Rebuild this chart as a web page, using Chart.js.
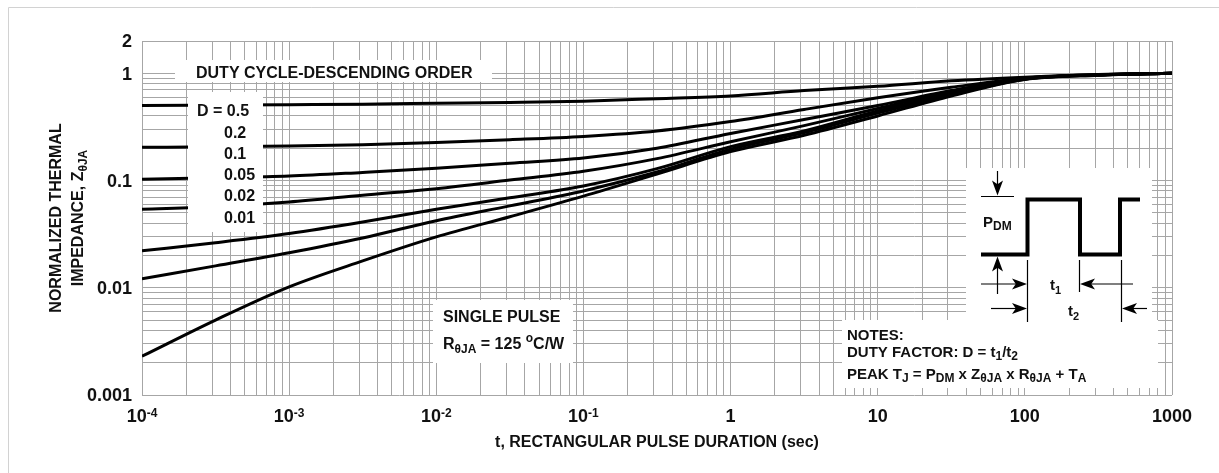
<!DOCTYPE html>
<html>
<head>
<meta charset="utf-8">
<title>Transient Thermal Response</title>
<script src="https://cdn.jsdelivr.net/npm/chart.js@4.4.1/dist/chart.umd.min.js"></script>
<style>
  html, body { margin: 0; padding: 0; background: #fff; }
  #wrap { position: relative; width: 1219px; height: 473px; }
</style>
</head>
<body>
<div id="wrap"><canvas id="thermal"></canvas></div>
<script>
// pulse duration t (sec), half-decade steps
const pulseTimes = [1e-4, 3.16e-4, 1e-3, 3.16e-3, 0.01, 0.0316, 0.1, 0.316, 1, 3.16, 10, 31.6, 100, 316, 1000];

// normalized thermal impedance Z(thetaJA), one list per duty cycle
const zD05   = [0.50, 0.505, 0.51, 0.515, 0.525, 0.535, 0.55, 0.58, 0.615, 0.69, 0.755, 0.85, 0.92, 0.975, 1.0];
const zD02   = [0.204, 0.206, 0.21, 0.216, 0.226, 0.24, 0.258, 0.29, 0.355, 0.46, 0.59, 0.74, 0.90, 0.97, 1.0];
const zD01   = [0.103, 0.106, 0.11, 0.119, 0.13, 0.145, 0.162, 0.20, 0.275, 0.37, 0.50, 0.69, 0.90, 0.97, 1.0];
const zD005  = [0.054, 0.057, 0.063, 0.073, 0.084, 0.101, 0.122, 0.16, 0.23, 0.325, 0.47, 0.668, 0.89, 0.965, 1.0];
const zD002  = [0.0221, 0.0263, 0.032, 0.041, 0.054, 0.069, 0.089, 0.129, 0.207, 0.29, 0.445, 0.64, 0.885, 0.965, 1.0];
const zD001  = [0.0121, 0.016, 0.0212, 0.0291, 0.0422, 0.058, 0.08, 0.12, 0.196, 0.28, 0.425, 0.63, 0.88, 0.96, 1.0];
const zSingle = [0.0023, 0.005, 0.0102, 0.0178, 0.0298, 0.046, 0.0716, 0.115, 0.186, 0.264, 0.40, 0.614, 0.875, 0.96, 1.0];

const dutyLabels = ["D = 0.5", "0.2", "0.1", "0.05", "0.02", "0.01"];

const yTickValues = [0.001, 0.01, 0.1, 1, 2];
const yTickLabels = ["0.001", "0.01", "0.1", "1", "2"];
const xTickValues = [1e-4, 1e-3, 1e-2, 1e-1, 1, 10, 100, 1000];
const xTickBase = ["10", "10", "10", "10", "1", "10", "100", "1000"];
const xTickExp = ["-4", "-3", "-2", "-1", "", "", "", ""];

const FONT = '"Liberation Sans", Arial, Helvetica, sans-serif';

/* ==============================
   HELPERS
================================ */
function logGrid(min, max) {
    const ticks = [];
    for (let e = Math.floor(Math.log10(min)); e <= Math.ceil(Math.log10(max)); e++) {
        for (let m = 1; m <= 9; m++) {
            const v = m * Math.pow(10, e);
            if (v >= min * 0.999 && v <= max * 1.001) ticks.push({ value: v });
        }
    }
    return ticks;
}

// parts: [text, size, dy]
function rich(ctx, x, y, parts, align) {
    let w = 0;
    parts.forEach(p => {
        ctx.font = `bold ${p[1]}px ${FONT}`;
        w += ctx.measureText(p[0]).width;
    });
    let cx = align === "center" ? x - w / 2 : align === "right" ? x - w : x;
    ctx.textAlign = "left";
    ctx.textBaseline = "alphabetic";
    parts.forEach(p => {
        ctx.font = `bold ${p[1]}px ${FONT}`;
        ctx.fillText(p[0], cx, y + (p[2] || 0));
        cx += ctx.measureText(p[0]).width;
    });
}

function arrow(ctx, x1, y1, x2, y2) {
    const a = Math.atan2(y2 - y1, x2 - x1);
    const len = 15, hw = 5.5;
    ctx.beginPath();
    ctx.moveTo(x1, y1);
    ctx.lineTo(x2 - Math.cos(a) * 6, y2 - Math.sin(a) * 6);
    ctx.stroke();
    ctx.beginPath();
    ctx.moveTo(x2, y2);
    ctx.lineTo(x2 - Math.cos(a) * len - Math.sin(a) * hw, y2 - Math.sin(a) * len + Math.cos(a) * hw);
    ctx.lineTo(x2 - Math.cos(a) * len * 0.75, y2 - Math.sin(a) * len * 0.75);
    ctx.lineTo(x2 - Math.cos(a) * len + Math.sin(a) * hw, y2 - Math.sin(a) * len - Math.cos(a) * hw);
    ctx.closePath();
    ctx.fill();
}

/* ==============================
   OVERLAY: boxes, notes, inset
================================ */
const overlay = {
    id: "overlay",
    afterDatasetsDraw(chart) {
        const ctx = chart.ctx;
        ctx.save();

        // white label boxes over the grid
        ctx.fillStyle = "#fff";
        ctx.fillRect(175, 60, 317, 22);
        ctx.fillRect(188, 92, 75, 140);
        ctx.fillRect(433, 300, 140, 63);
        ctx.fillRect(966, 168, 186, 153);
        ctx.fillRect(842, 320, 316, 68);

        ctx.fillStyle = "#111";
        rich(ctx, 196, 78, [["DUTY CYCLE-DESCENDING ORDER", 16]], "left");

        const dutyY = [110, 131.7, 152.5, 174, 195.3, 217];
        dutyLabels.forEach((t, i) => {
            rich(ctx, i === 0 ? 197 : 224, dutyY[i] + 6, [[t, 16]], "left");
        });

        rich(ctx, 443, 322, [["SINGLE PULSE", 16]], "left");
        rich(ctx, 443, 349, [["R", 16], ["\u03b8JA", 12, 4], [" = 125 ", 16], ["o", 12, -7], ["C/W", 16]], "left");

        // notes
        rich(ctx, 847, 340, [["NOTES:", 15]], "left");
        rich(ctx, 847, 357, [["DUTY FACTOR: D = t", 15], ["1", 12, 3], ["/t", 15], ["2", 12, 3]], "left");
        rich(ctx, 847, 379, [["PEAK T", 15], ["J", 12, 3], [" = P", 15], ["DM", 12, 3], [" x Z", 15],
            ["\u03b8JA", 12, 3], [" x R", 15], ["\u03b8JA", 12, 3], [" + T", 15], ["A", 12, 3]], "left");

        // pulse waveform inset
        ctx.strokeStyle = "#000";
        ctx.fillStyle = "#000";
        ctx.lineWidth = 4;
        ctx.lineJoin = "miter";
        ctx.beginPath();
        ctx.moveTo(981, 254.5);
        ctx.lineTo(1027.5, 254.5);
        ctx.lineTo(1027.5, 199.5);
        ctx.lineTo(1080, 199.5);
        ctx.lineTo(1080, 254.5);
        ctx.lineTo(1120, 254.5);
        ctx.lineTo(1120, 199.5);
        ctx.lineTo(1140, 199.5);
        ctx.stroke();

        ctx.lineWidth = 1.2;
        ctx.beginPath();
        ctx.moveTo(981, 196.5); ctx.lineTo(1014, 196.5);
        ctx.moveTo(1027.5, 260); ctx.lineTo(1027.5, 322);
        ctx.moveTo(1079.5, 260); ctx.lineTo(1079.5, 292);
        ctx.moveTo(1121.5, 260); ctx.lineTo(1121.5, 322);
        ctx.stroke();

        arrow(ctx, 997.5, 171, 997.5, 195.5);
        arrow(ctx, 997.5, 294, 997.5, 256.5);
        arrow(ctx, 981, 284, 1027, 284);
        arrow(ctx, 1133, 284, 1080, 284);
        arrow(ctx, 991, 308.5, 1027, 308.5);
        arrow(ctx, 1147, 308.5, 1122, 308.5);

        ctx.fillStyle = "#111";
        rich(ctx, 983, 227, [["P", 15], ["DM", 12, 3]], "left");
        rich(ctx, 1050, 290, [["t", 15], ["1", 11, 4]], "left");
        rich(ctx, 1068, 316, [["t", 15], ["2", 11, 4]], "left");

        ctx.restore();
    },
    afterDraw(chart) {
        const ctx = chart.ctx;
        const xs = chart.scales.x, ys = chart.scales.y;
        ctx.save();

        // outer frame (left and top edges only)
        ctx.strokeStyle = "#d2d2d2";
        ctx.lineWidth = 1;
        ctx.beginPath();
        ctx.moveTo(8.5, 473); ctx.lineTo(8.5, 7.5); ctx.lineTo(1219, 7.5);
        ctx.stroke();

        ctx.fillStyle = "#111";
        yTickValues.forEach((v, i) => {
            rich(ctx, 132, ys.getPixelForValue(v) + 6.4, [[yTickLabels[i], 18]], "right");
        });
        xTickValues.forEach((v, i) => {
            const parts = [[xTickBase[i], 18]];
            if (xTickExp[i]) parts.push([xTickExp[i], 12, -5]);
            rich(ctx, xs.getPixelForValue(v), 421.5, parts, "center");
        });

        rich(ctx, (xs.left + xs.right) / 2, 447, [["t, RECTANGULAR PULSE DURATION (sec)", 16]], "center");

        const midY = (ys.top + ys.bottom) / 2;
        ctx.save();
        ctx.translate(61, midY);
        ctx.rotate(-Math.PI / 2);
        rich(ctx, 0, 0, [["NORMALIZED THERMAL", 16]], "center");
        ctx.restore();
        ctx.save();
        ctx.translate(83, midY);
        ctx.rotate(-Math.PI / 2);
        rich(ctx, 0, 0, [["IMPEDANCE, Z", 16], ["\u03b8JA", 12, 4]], "center");
        ctx.restore();

        ctx.restore();
    }
};

/* ==============================
   CHART
================================ */
const series = [zD05, zD02, zD01, zD005, zD002, zD001, zSingle];

new Chart(document.getElementById("thermal"), {
    type: "line",
    data: {
        datasets: series.map(s => ({
            data: pulseTimes.map((t, i) => ({ x: t, y: s[i] })),
            borderColor: "#000",
            borderWidth: 3,
            pointRadius: 0,
            cubicInterpolationMode: "monotone",
            fill: false
        }))
    },
    options: {
        responsive: true,
        maintainAspectRatio: false,
        animation: false,
        events: [],
        layout: { padding: { left: 142, right: 47, top: 41, bottom: 78 } },
        plugins: {
            legend: { display: false },
            tooltip: { enabled: false }
        },
        scales: {
            x: {
                type: "logarithmic",
                min: 1e-4,
                max: 1000,
                afterBuildTicks: s => { s.ticks = logGrid(1e-4, 1000); },
                afterFit: s => { s.height = 0; },
                ticks: { display: false },
                grid: { color: "#a6a6a6", lineWidth: 1, drawTicks: false },
                border: { display: false }
            },
            y: {
                type: "logarithmic",
                min: 0.001,
                max: 2,
                afterBuildTicks: s => { s.ticks = logGrid(0.001, 2); },
                afterFit: s => { s.width = 0; },
                ticks: { display: false },
                grid: { color: "#a6a6a6", lineWidth: 1, drawTicks: false },
                border: { display: false }
            }
        }
    },
    plugins: [overlay]
});
</script>
</body>
</html>
